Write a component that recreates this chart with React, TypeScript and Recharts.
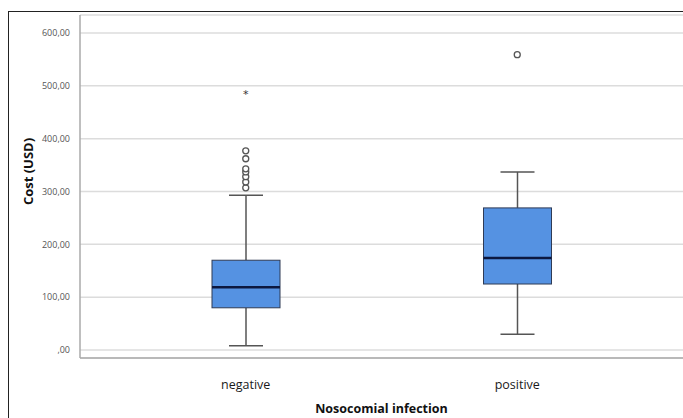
import { ComposedChart, Bar, Scatter, XAxis, YAxis, CartesianGrid } from "recharts";

const groups = ["negative", "positive"];
const whiskerLow = [8, 30];
const q1 = [80, 125];
const median = [119, 174];
const q3 = [170, 269];
const whiskerHigh = [293, 337];

const negOutliers = [307, 318, 328, 337, 343, 362, 377];
const negExtremes = [487];
const posOutliers = [559];

const yTicks = [0, 100, 200, 300, 400, 500, 600];

const boxes = groups.map((g, i) => ({
  group: g, low: whiskerLow[i], q1: q1[i], median: median[i], q3: q3[i], high: whiskerHigh[i],
}));

const circlePts = [
  ...negOutliers.map(v => ({ group: "negative", cost: v })),
  ...posOutliers.map(v => ({ group: "positive", cost: v })),
];
const starPts = negExtremes.map(v => ({ group: "negative", cost: v }));

const BoxShape = (props: any) => {
  const { x, y, width, height, payload } = props;
  const { low, high } = payload;
  const toY = (v: number) => y + ((high - v) / (high - low)) * height;
  const cx = x + width / 2;
  const cap = width / 4;
  return (
    <g>
      <line x1={cx} x2={cx} y1={toY(high)} y2={toY(payload.q3)} stroke="#555" strokeWidth={1.5} />
      <line x1={cx} x2={cx} y1={toY(payload.q1)} y2={toY(low)} stroke="#555" strokeWidth={1.5} />
      <line x1={cx - cap} x2={cx + cap} y1={toY(high)} y2={toY(high)} stroke="#555" strokeWidth={1.5} />
      <line x1={cx - cap} x2={cx + cap} y1={toY(low)} y2={toY(low)} stroke="#555" strokeWidth={1.5} />
      <rect x={x} y={toY(payload.q3)} width={width} height={toY(payload.q1) - toY(payload.q3)}
        fill="#5592e2" stroke="#2f3b55" strokeWidth={1} />
      <line x1={x} x2={x + width} y1={toY(payload.median)} y2={toY(payload.median)} stroke="#0c1840" strokeWidth={2.5} />
    </g>
  );
};

const CircleShape = (props: any) => (
  <circle cx={props.cx} cy={props.cy} r={3} fill="#fff" stroke="#555" strokeWidth={1.3} />
);

const StarShape = (props: any) => (
  <text x={props.cx} y={props.cy + 5} textAnchor="middle" fontSize={11} fill="#333" fontFamily="DejaVu Sans">*</text>
);

const YLabel = (props: any) => {
  const vb = props.viewBox || { x: 0, y: 15, width: 80, height: 343 };
  const x = 28;
  const y = vb.y + vb.height / 2 - 15;
  return (
    <text x={x} y={y} transform={`rotate(-90, ${x}, ${y})`} textAnchor="middle" dominantBaseline="central"
      fontSize={13} fontWeight="bold" fill="#111">Cost (USD)</text>
  );
};

export default function App() {
  return (
    <div style={{ position: "absolute", left: 0, top: 0, width: 683, height: 418, background: "#fff", fontFamily: "'Open Sans', sans-serif" }}>
      <div style={{ position: "absolute", left: 8, top: 11, width: 675, height: 407, borderLeft: "1.5px solid #222", borderTop: "1.5px solid #222" }} />
      <ComposedChart width={683} height={418} data={boxes} margin={{ top: 15, right: 0, bottom: 0, left: 0 }}>
        <CartesianGrid vertical={false} stroke="#dcdcdc" strokeWidth={1.5} />
        <XAxis dataKey="group" type="category" allowDuplicatedCategory={false} padding={{ left: 30, right: 30 }}
          height={60} stroke="#aaa" strokeWidth={1.5} tickLine={false}
          tick={{ fontSize: 12.5, fill: "#1a1a1a" }} tickMargin={16}
          label={{ value: "Nosocomial infection", position: "insideBottom", offset: 5, fontSize: 12.5, fontWeight: "bold", fill: "#111" }} />
        <YAxis type="number" domain={[-15, 634]} ticks={yTicks} width={80} interval={0}
          stroke="#aaa" strokeWidth={1.5} tickLine={false}
          tick={{ fontSize: 9, fill: "#555" }} tickMargin={4}
          tickFormatter={(v: number) => (v === 0 ? ",00" : `${v},00`)}
          label={{ content: YLabel }} />
        <Bar dataKey={(d: any) => [d.low, d.high]} barSize={68} shape={BoxShape} isAnimationActive={false} />
        <Scatter data={circlePts} dataKey="cost" shape={CircleShape} isAnimationActive={false} />
        <Scatter data={starPts} dataKey="cost" shape={StarShape} isAnimationActive={false} />
      </ComposedChart>
    </div>
  );
}
